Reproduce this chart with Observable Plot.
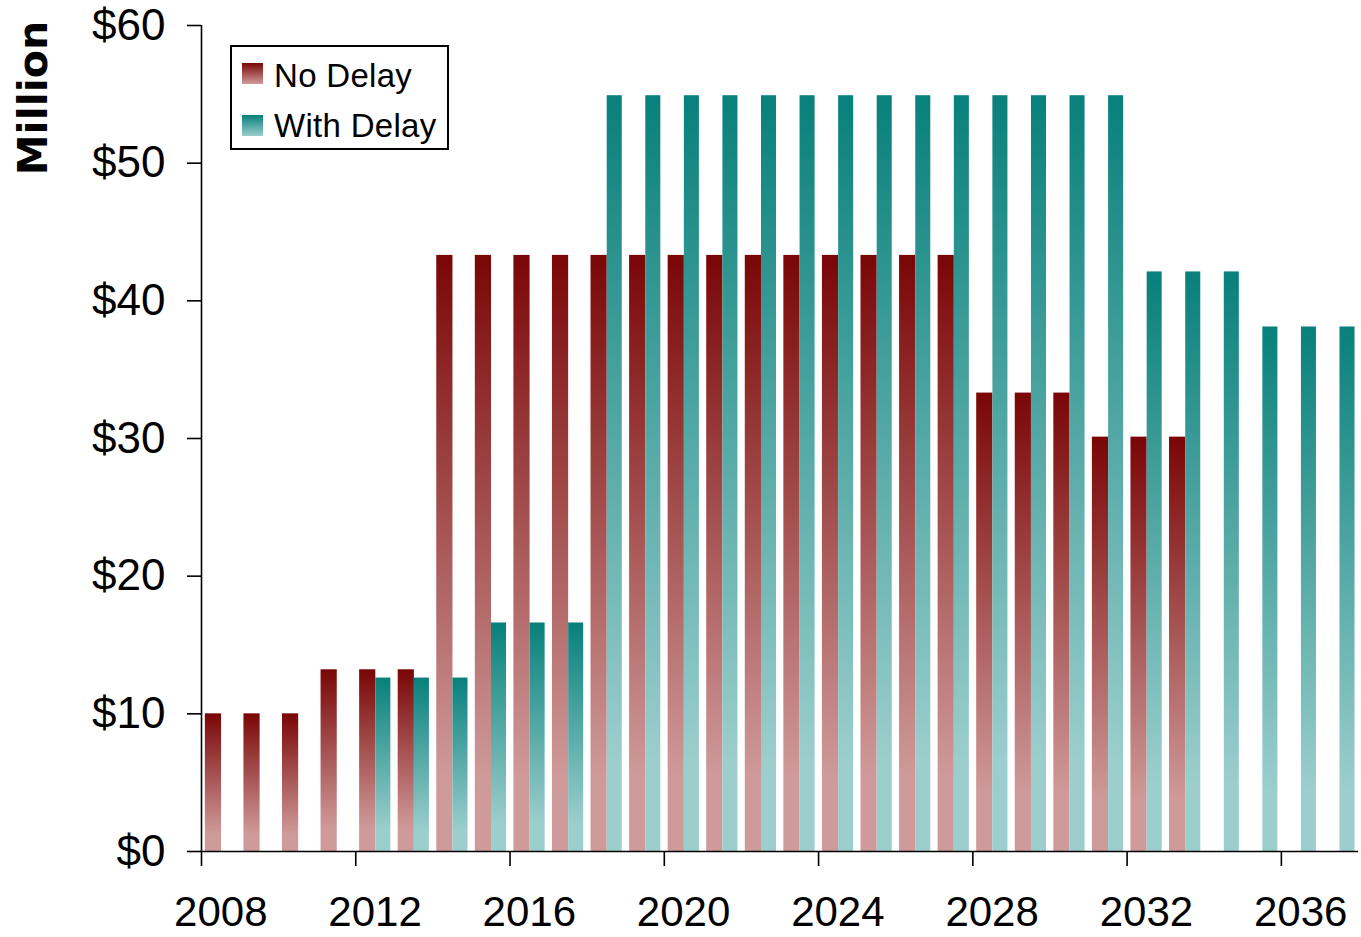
<!DOCTYPE html>
<html>
<head>
<meta charset="utf-8">
<script src="https://cdn.jsdelivr.net/npm/d3@7"></script>
<script src="https://cdn.jsdelivr.net/npm/@observablehq/plot@0.6"></script>
<style>
  html, body { margin: 0; padding: 0; background: #fff; }
  #wrap { position: relative; width: 1361px; height: 937px; overflow: hidden; font-family: "Liberation Sans", Arial, sans-serif; }
  .abs { position: absolute; }
  #legendBox { left: 230px; top: 45px; width: 219px; height: 105px; border: 2px solid #000; box-sizing: border-box; background: #fff; }
  .sw { width: 21px; height: 21px; }
  .lt { font-size: 33px; line-height: 33px; color: #000; white-space: nowrap; letter-spacing: 0.3px; }
  #ylab { left: 32.5px; top: 98px; transform: translate(-50%, -50%) rotate(-90deg); font-family: "DejaVu Sans", sans-serif; font-weight: bold; font-size: 41px; white-space: nowrap; }
</style>
</head>
<body>
<div id="wrap"></div>
<script>
// ---- Data ----
const years = [2008, 2009, 2010, 2011, 2012, 2013, 2014, 2015, 2016, 2017,
               2018, 2019, 2020, 2021, 2022, 2023, 2024, 2025, 2026, 2027,
               2028, 2029, 2030, 2031, 2032, 2033, 2034, 2035, 2036, 2037];
const noDelay = [10, 10, 10, 13.2, 13.2, 13.2, 43.3, 43.3, 43.3, 43.3,
                 43.3, 43.3, 43.3, 43.3, 43.3, 43.3, 43.3, 43.3, 43.3, 43.3,
                 33.3, 33.3, 33.3, 30.1, 30.1, 30.1, null, null, null, null];
const withDelay = [null, null, null, null, 12.6, 12.6, 12.6, 16.6, 16.6, 16.6,
                   54.9, 54.9, 54.9, 54.9, 54.9, 54.9, 54.9, 54.9, 54.9, 54.9,
                   54.9, 54.9, 54.9, 54.9, 42.1, 42.1, 42.1, 38.1, 38.1, 38.1];
const seriesNames = ["No Delay", "With Delay"];
const xTickYears = [2008, 2012, 2016, 2020, 2024, 2028, 2032, 2036];
const yTicks = [0, 10, 20, 30, 40, 50, 60];

// ---- Build rows ----
const rowsNo = years.map((y, i) => ({year: y, value: noDelay[i]})).filter(d => d.value != null);
const rowsWith = years.map((y, i) => ({year: y, value: withDelay[i]})).filter(d => d.value != null);

const redTop = "#7a0606", redBot = "#cf9b9a";
const tealTop = "#08807b", tealBot = "#9bcecd";

const chart = Plot.plot({
  width: 1361,
  height: 937,
  marginLeft: 201,
  marginRight: 3,
  marginTop: 25,
  marginBottom: 86,
  style: {fontFamily: "Liberation Sans, Arial, sans-serif", fontSize: "44px", background: "white", color: "black"},
  x: {type: "linear", domain: [2008, 2038], axis: null, label: null},
  y: {domain: [0, 60], axis: null, label: null},
  marks: [
    Plot.rect(rowsNo, {x1: d => d.year + 0.1, x2: d => d.year + 0.52, y1: 0, y2: "value", fill: "url(#gNo)"}),
    Plot.rect(rowsWith, {x1: d => d.year + 0.52, x2: d => d.year + 0.91, y1: 0, y2: "value", fill: "url(#gWith)"}),
    Plot.axisY({ticks: yTicks, tickFormat: d => "$" + d, tickSize: 14, tickPadding: 22, strokeWidth: 1.6, label: null}),
    Plot.axisX({ticks: xTickYears, tickFormat: () => "", tickSize: 15, strokeWidth: 1.6, label: null}),
    Plot.axisX({ticks: xTickYears.map(y => y + 0.5), tickFormat: d => String(Math.round(d - 0.5)), tickSize: 0, tickPadding: 45, fontSize: 42, label: null}),
    Plot.ruleX([2008], {strokeWidth: 1.6}),
    Plot.ruleY([0], {strokeWidth: 1.6})
  ]
});

// gradients
const svg = d3.select(chart);
const defs = svg.insert("defs", ":first-child");
function grad(id, top, bot) {
  const g = defs.append("linearGradient").attr("id", id).attr("x1", 0).attr("y1", 0).attr("x2", 0).attr("y2", 1);
  g.append("stop").attr("offset", "0%").attr("stop-color", top);
  g.append("stop").attr("offset", "88%").attr("stop-color", bot);
  g.append("stop").attr("offset", "100%").attr("stop-color", bot);
}
grad("gNo", redTop, redBot);
grad("gWith", tealTop, tealBot);

const wrap = document.getElementById("wrap");
wrap.appendChild(chart);

// Legend (HTML overlay)
const legendItems = [
  {name: seriesNames[0], top: redTop, bot: redBot, swTop: 63, txtTop: 59},
  {name: seriesNames[1], top: tealTop, bot: tealBot, swTop: 115, txtTop: 109}
];
const box = document.createElement("div");
box.className = "abs"; box.id = "legendBox";
wrap.appendChild(box);
legendItems.forEach(it => {
  const sw = document.createElement("div");
  sw.className = "abs sw";
  sw.style.left = "242px"; sw.style.top = it.swTop + "px";
  sw.style.background = `linear-gradient(to bottom, ${it.top}, ${it.bot})`;
  wrap.appendChild(sw);
  const t = document.createElement("div");
  t.className = "abs lt";
  t.style.left = "274px"; t.style.top = it.txtTop + "px";
  t.textContent = it.name;
  wrap.appendChild(t);
});
const yl = document.createElement("div");
yl.className = "abs"; yl.id = "ylab"; yl.textContent = "Million";
wrap.appendChild(yl);
</script>
</body>
</html>
